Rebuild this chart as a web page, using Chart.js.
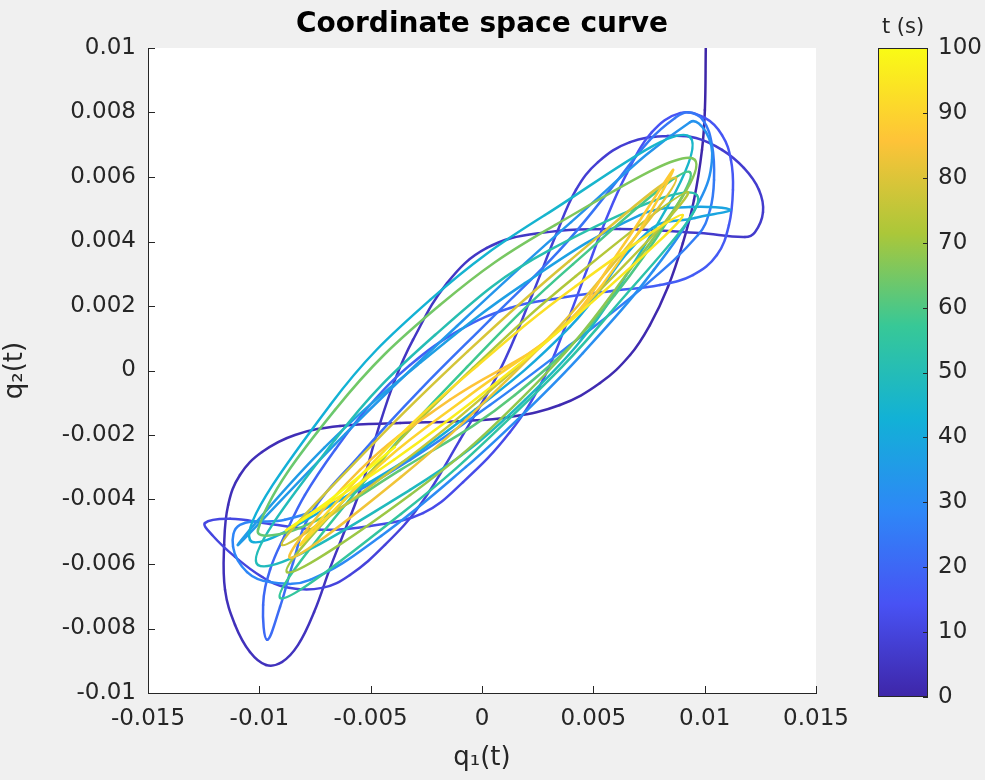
<!DOCTYPE html>
<html>
<head>
<meta charset="utf-8">
<script src="https://cdn.jsdelivr.net/npm/chart.js@4.4.1/dist/chart.umd.min.js"></script>
<style>
  body { margin: 0; background: #f0f0f0; }
  #wrap { position: relative; width: 985px; height: 780px; }
  #main { position: absolute; left: 0; top: 0; }
  #cbar { position: absolute; left: 820px; top: 0; }
</style>
</head>
<body>
<div id="wrap">
  <canvas id="main" width="985" height="780"></canvas>
  <canvas id="cbar" width="165" height="780"></canvas>
</div>
<script>
// curve, q1 and q2 in units of 1e-3
var q1 = [10.05, 10.01, 9.88, 9.52, 9.02, 8.35, 7.54, 6.65, 5.30, 3.50, 1.26, -0.99, -3.68, -6.38, -8.40, -9.88, -10.87, -11.40, -11.58, -11.54,
  -11.09, -10.42, -9.70, -8.98, -8.26, -7.54, -6.82, -6.15, -5.39, -4.67, -3.91, -3.10, -1.57, 0.22, 2.60, 6.20, 9.79, 11.81,
  12.26, 12.62, 12.44, 11.76, 10.78, 9.61, 8.35, 6.65, 5.21, 4.22, 3.32, 2.25, 0.81, -0.99, -2.78, -4.36, -5.93, -7.18, -8.85, -9.88, -11.09, -12.12, -12.44,
  -11.31, -9.52, -7.27, -5.03, -2.65, -0.85, 1.26, 2.74, 3.77, 4.71, 5.52, 6.51, 7.63, 8.89, 10.01, 10.78, 11.18, 11.27, 11.09, 10.55,
  9.47, 7.99, 5.75, 3.50, 1.26, -0.99, -3.23, -5.03, -6.60, -7.95, -8.85, -9.52, -9.83, -9.65,
  -9.07, -8.49, -7.72, -5.48, -2.78, 0.36, 3.50, 5.75, 7.54, 8.67, 9.25,
  9.92, 10.33, 10.42, 10.24, 9.70, 7.09, 3.95, 0.36, -3.23, -6.38, -8.85, -10.87,
  -11.18, -10.55, -9.52, -7.72, -4.53, -0.72, 1.98, 4.53, 7.72, 9.79, 10.33, 10.06, 9.34,
  4.00, -1.12, -6.15, -10.96,
  -7.09, -2.74, 1.93, 7.09, 9.34, 11.14,
  9.56, 7.54, 3.95, -0.31, -5.03, -10.42,
  -6.82, -2.33, 2.83, 9.34,
  6.20, 1.93, -3.23, -10.06,
  -6.60, -2.11, 3.05, 9.65,
  5.75, 1.26, -3.64, -9.07,
  -5.12, -0.67, 4.09, 9.34,
  5.97, 1.48, -3.68, -8.17, -10.06,
  -6.60, -1.89, 3.28, 9.56,
  5.97, 1.71, -3.23, -8.76,
  -4.76, -0.40, 4.22, 9.25,
  5.21, 0.76, -3.91, -8.98,
  -4.94, -0.63, 3.91, 8.71,
  5.03, 0.85, -3.64, -8.62,
  -5.48, -1.44, 3.50, 6.20, 8.58,
  6.65, 3.95, -0.54, -4.36, -8.17,
  -4.40, -0.22, 4.22, 9.02,
  4.94, 0.63, -3.95, -8.76,
  -6.82, -3.91];

var q2 = [10.00, 8.08, 6.84, 5.29, 3.95, 2.59, 1.41, 0.48, -0.39, -1.07, -1.44, -1.57, -1.63, -1.72, -2.00, -2.53, -3.24, -4.17, -5.41, -6.80,
  -7.89, -8.73, -9.13, -9.04, -8.51, -7.49, -6.12, -4.94, -3.55, -1.84, -0.29, 0.95, 2.71, 3.80, 4.26, 4.39, 4.26, 4.14,
  4.29, 4.91, 5.60, 6.28, 6.84, 7.21, 7.27, 7.08, 6.46, 5.60, 4.20, 2.34, 0.02, -2.15, -4.17, -5.41, -6.34, -6.74, -6.71, -6.40, -5.78, -5.10, -4.73,
  -4.60, -4.76, -4.94, -4.82, -4.42, -3.46, -1.91, -0.29, 1.41, 3.12, 4.60, 6.12, 7.39, 7.98, 7.83, 7.30, 6.53, 5.60, 4.51, 3.58,
  2.96, 2.65, 2.46, 2.25, 1.94, 1.26, 0.17, -1.07, -2.46, -3.86, -5.10, -6.18, -7.27, -8.35,
  -7.33, -5.97, -4.48, -2.62, -0.60, 1.57, 3.74, 5.60, 7.15, 7.83, 8.01,
  7.77, 6.99, 5.91, 4.98, 4.20, 2.50, 0.79, -1.07, -2.77, -4.01, -4.63, -4.79,
  -5.47, -6.25, -6.56, -6.49, -5.13, -2.99, -1.26, 0.54, 3.12, 5.29, 6.53, 7.39, 7.70,
  4.60, 1.38, -1.97, -5.41,
  -2.40, 0.26, 2.71, 4.82, 5.07, 4.98,
  4.73, 4.36, 1.35, -1.22, -3.46, -5.25,
  -1.07, 2.19, 4.82, 7.24,
  2.65, -0.91, -3.70, -6.03,
  -2.15, 1.10, 3.74, 5.44,
  1.78, -1.47, -4.45, -7.05,
  -3.30, 0.11, 3.30, 6.15,
  2.34, -0.76, -3.09, -4.88, -4.94,
  -1.22, 2.03, 4.51, 6.53,
  2.49, -0.91, -3.86, -6.25,
  -2.96, 0.08, 2.93, 5.53,
  2.43, -0.39, -3.02, -5.41,
  -2.31, 0.60, 3.39, 5.97,
  2.59, -0.48, -3.30, -5.81,
  -3.08, -0.91, 1.26, 3.74, 6.22,
  3.89, 1.56, -0.76, -2.79, -5.41,
  -2.50, 0.14, 2.62, 4.82,
  2.12, -0.39, -2.77, -4.94,
  -4.01, -2.37];

// time of each point, seconds
var tSec = [0, 0.15, 0.35, 0.6, 0.8, 1.0, 1.2, 1.4, 1.6, 1.8, 2.0, 2.15, 2.3, 2.5, 2.65, 2.8, 2.95, 3.1, 3.25, 3.4,
  3.55, 3.7, 3.85, 4.0, 4.15, 4.3, 4.45, 4.6, 4.75, 4.9, 5.05, 5.2, 5.4, 5.6, 5.8, 6.1, 6.4, 6.6,
  6.75, 6.9, 7.05, 7.2, 7.35, 7.5, 7.65, 7.8, 7.95, 8.1, 8.3, 8.5, 8.75, 9.0, 9.25, 9.45, 9.65, 9.8, 10.0, 10.15, 10.3, 10.45, 10.6,
  10.8, 11.1, 11.4, 11.7, 12.0, 12.3, 12.6, 12.9, 13.2, 13.5, 13.8, 14.1, 14.4, 14.7, 15.0, 15.3, 15.6, 15.9, 16.2, 16.5,
  16.8, 17.1, 17.4, 17.7, 18.0, 18.3, 18.6, 18.9, 19.2, 19.5, 19.8, 20.1, 20.4, 20.8,
  21.2, 21.5, 21.8, 22.2, 22.6, 23.0, 23.4, 23.8, 24.1, 24.3, 24.5,
  24.7, 25.0, 25.3, 25.6, 25.9, 26.3, 26.7, 27.0, 27.3, 27.6, 27.8, 28.0,
  28.3, 28.6, 28.9, 29.2, 29.7, 30.2, 30.6, 31.0, 31.4, 31.8, 32.1, 32.4, 32.6,
  33.2, 33.8, 34.4, 35.0,
  35.6, 36.3, 37.0, 37.7, 38.1, 38.5,
  38.8, 39.1, 39.8, 40.5, 41.2, 42.0,
  42.8, 43.7, 44.6, 45.5,
  46.3, 47.2, 48.1, 49.0,
  49.8, 50.7, 51.6, 52.5,
  53.3, 54.2, 55.1, 56.0,
  56.8, 57.7, 58.6, 59.5,
  60.3, 61.1, 61.9, 62.6, 63.0,
  63.8, 64.7, 65.6, 66.5,
  67.3, 68.2, 69.1, 70.0,
  70.8, 71.7, 72.6, 73.5,
  74.3, 75.2, 76.1, 77.0,
  77.8, 78.7, 79.6, 80.5,
  81.3, 82.2, 83.1, 84.0,
  84.7, 85.5, 86.3, 87.0, 87.5,
  88.0, 88.7, 89.5, 90.3, 91.0,
  91.8, 92.7, 93.6, 94.5,
  95.3, 96.2, 97.1, 98.0,
  99.0, 100];

var xTicks = [-0.015, -0.01, -0.005, 0, 0.005, 0.01, 0.015];
var yTicks = [-0.01, -0.008, -0.006, -0.004, -0.002, 0, 0.002, 0.004, 0.006, 0.008, 0.01];
var tTicks = [0, 10, 20, 30, 40, 50, 60, 70, 80, 90, 100];

var axisColor = '#262626';
var parulaStops = [[62, 38, 168], [72, 82, 244], [46, 135, 247], [18, 177, 214], [55, 200, 151], [171, 199, 57], [254, 195, 56], [249, 251, 21]];

function parula(f) {
    f = Math.min(1, Math.max(0, f));
    let n = parulaStops.length - 1;
    let i = Math.min(n - 1, Math.floor(f * n));
    let u = f * n - i;
    let a = parulaStops[i], b = parulaStops[i + 1];
    let c = [0, 1, 2].map(k => Math.round(a[k] + (b[k] - a[k]) * u));
    return 'rgb(' + c.join(',') + ')';
}

function fmt(v) {
    return String(+v.toFixed(4));
}

var points = [];
for (let i = 0; i < q1.length; i++) {
    points.push({ x: q1[i] / 1000, y: q2[i] / 1000 });
}

var areaPlugin = {
    id: 'area',
    beforeDraw(chart) {
        let a = chart.chartArea;
        let ctx = chart.ctx;
        ctx.save();
        ctx.fillStyle = '#f0f0f0';
        ctx.fillRect(0, 0, chart.width, chart.height);
        ctx.fillStyle = '#ffffff';
        ctx.fillRect(a.left, a.top, a.right - a.left, a.bottom - a.top);
        ctx.restore();
    },
    afterDraw(chart) {
        let a = chart.chartArea;
        let ctx = chart.ctx;
        let xs = chart.scales.x, ys = chart.scales.y;
        ctx.save();
        ctx.strokeStyle = axisColor;
        ctx.lineWidth = 1;
        ctx.beginPath();
        xTicks.forEach(v => {
            let px = Math.round(xs.getPixelForValue(v)) + 0.5;
            ctx.moveTo(px, a.bottom);
            ctx.lineTo(px, a.bottom - 7);
        });
        yTicks.forEach(v => {
            let py = Math.round(ys.getPixelForValue(v)) + 0.5;
            ctx.moveTo(a.left, py);
            ctx.lineTo(a.left + 7, py);
        });
        ctx.stroke();
        // title
        ctx.fillStyle = '#000000';
        ctx.font = 'bold 28px "DejaVu Sans"';
        ctx.textAlign = 'center';
        ctx.textBaseline = 'middle';
        ctx.fillText('Coordinate space curve', (a.left + a.right) / 2, 25);
        ctx.restore();
    }
};

new Chart(document.getElementById('main'), {
    type: 'scatter',
    data: {
        datasets: [{
            data: points,
            showLine: true,
            pointRadius: 0,
            borderWidth: 2.5,
            tension: 0.4,
            borderCapStyle: 'round',
            borderJoinStyle: 'round',
            segment: {
                borderColor: ctx => parula((tSec[ctx.p0DataIndex] + tSec[ctx.p1DataIndex]) / 200)
            }
        }]
    },
    options: {
        responsive: false,
        animation: false,
        layout: { padding: { left: 0, top: 48, right: 169, bottom: 0 } },
        plugins: { legend: { display: false }, tooltip: { enabled: false } },
        scales: {
            x: {
                type: 'linear',
                min: -0.015,
                max: 0.015,
                afterBuildTicks: s => { s.ticks = xTicks.map(v => ({ value: v })); },
                afterFit: s => { s.height = 87; },
                grid: { display: false, drawTicks: false },
                border: { display: true, color: axisColor, width: 1 },
                ticks: {
                    callback: v => fmt(v),
                    font: { family: 'DejaVu Sans', size: 23 },
                    color: axisColor,
                    padding: 12,
                    maxRotation: 0,
                    autoSkip: false
                },
                title: {
                    display: true,
                    text: 'q₁(t)',
                    font: { family: 'DejaVu Sans', size: 26 },
                    color: axisColor,
                    padding: { top: 0, bottom: 6 }
                }
            },
            y: {
                type: 'linear',
                min: -0.01,
                max: 0.01,
                afterBuildTicks: s => { s.ticks = yTicks.map(v => ({ value: v })); },
                afterFit: s => { s.width = 148; },
                grid: { display: false, drawTicks: false },
                border: { display: true, color: axisColor, width: 1 },
                ticks: {
                    callback: v => fmt(v),
                    font: { family: 'DejaVu Sans', size: 23 },
                    color: axisColor,
                    padding: 12,
                    autoSkip: false
                },
                title: {
                    display: true,
                    text: 'q₂(t)',
                    font: { family: 'DejaVu Sans', size: 26 },
                    color: axisColor,
                    padding: { top: 0, bottom: 4 }
                }
            }
        }
    },
    plugins: [areaPlugin]
});

var barPlugin = {
    id: 'colorbar',
    beforeDraw(chart) {
        let a = chart.chartArea;
        let ctx = chart.ctx;
        ctx.save();
        let g = ctx.createLinearGradient(0, a.bottom, 0, a.top);
        for (let i = 0; i < parulaStops.length; i++) {
            let f = i / (parulaStops.length - 1);
            g.addColorStop(f, parula(f));
        }
        ctx.fillStyle = g;
        ctx.fillRect(a.left, a.top, a.right - a.left, a.bottom - a.top);
        ctx.restore();
    },
    afterDraw(chart) {
        let a = chart.chartArea;
        let ctx = chart.ctx;
        let ys = chart.scales.y;
        ctx.save();
        ctx.strokeStyle = axisColor;
        ctx.lineWidth = 1;
        ctx.strokeRect(a.left + 0.5, a.top + 0.5, a.right - a.left - 1, a.bottom - a.top - 1);
        ctx.beginPath();
        tTicks.forEach(v => {
            let py = Math.round(ys.getPixelForValue(v)) + 0.5;
            ctx.moveTo(a.right, py);
            ctx.lineTo(a.right - 5, py);
        });
        ctx.stroke();
        ctx.fillStyle = axisColor;
        ctx.font = '21px "DejaVu Sans"';
        ctx.textAlign = 'center';
        ctx.textBaseline = 'middle';
        ctx.fillText('t (s)', (a.left + a.right) / 2, 28);
        ctx.restore();
    }
};

new Chart(document.getElementById('cbar'), {
    type: 'scatter',
    data: { datasets: [{ data: [] }] },
    options: {
        responsive: false,
        animation: false,
        layout: { padding: { left: 58, top: 48, right: 0, bottom: 83 } },
        plugins: { legend: { display: false }, tooltip: { enabled: false } },
        scales: {
            x: { display: false, min: 0, max: 1 },
            y: {
                position: 'right',
                min: 0,
                max: 100,
                afterBuildTicks: s => { s.ticks = tTicks.map(v => ({ value: v })); },
                afterFit: s => { s.width = 57; },
                grid: { display: false, drawTicks: false },
                border: { display: false },
                ticks: {
                    font: { family: 'DejaVu Sans', size: 23 },
                    color: axisColor,
                    padding: 10,
                    autoSkip: false
                }
            }
        }
    },
    plugins: [barPlugin]
});
</script>
</body>
</html>
